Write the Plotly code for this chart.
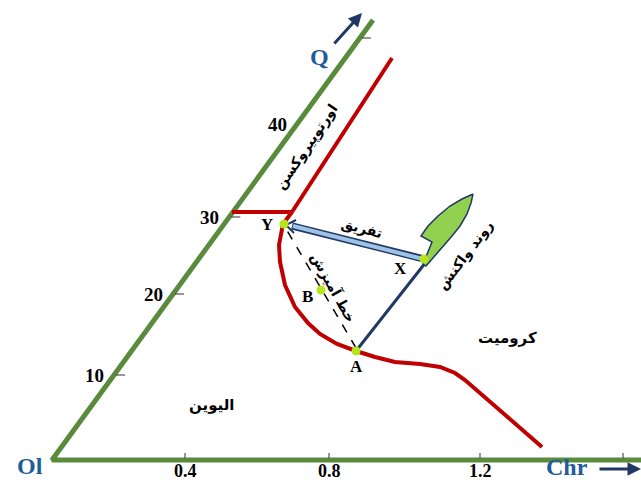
import plotly.graph_objects as go

# Frame of the diagram (page-like units, y grows downward)
W, H = 641, 482

# Triangle edges: Ol apex, Q end of the left edge, Chr end of the base
OL = (52, 460)
Q_END = (373, 20)
CHR_END = (641, 460)

# Q scale (left edge) tick labels and the heights at which they sit
q_ticks = ["10", "20", "30", "40"]
q_tick_y = [375, 294, 217, 124]
q_dash_y = [375, 294, 217, 38]

# Chr scale (base) tick labels and positions
chr_ticks = ["0.4", "0.8", "1.2", ""]
chr_tick_x = [185, 329, 480, 623]

# Cotectic boundaries (red)
opx_boundary_x = [292, 392]
opx_boundary_y = [212, 58]
peritectic_x = [232, 292, 283]
peritectic_y = [212, 212, 224]
chromite_curve_x = [283, 279, 280, 285, 295, 308, 320, 337, 356, 375, 395, 420, 440, 455, 465, 542]
chromite_curve_y = [224, 245, 262, 285, 307, 323, 334, 344, 351, 357, 362, 364, 367, 373, 380, 447]

# Named compositions
pt_names = ["Y", "B", "X", "A"]
pt_x = [284, 321, 424, 356]
pt_y = [224, 290, 259, 351]
lbl_x = [267, 307, 400, 356]
lbl_y = [224, 296, 268, 366]

# Reaction-trend arrow outline: tapering shaft, broad head with a left barb
trend_x = [473, 471, 467, 460, 452, 446, 434, 426, 423, 428, 432, 421, 428, 438, 450, 462, 473]
trend_y = [194, 203, 214, 226, 236, 243, 257, 266, 264, 252, 242, 236, 226, 216, 206, 199, 194]

GREEN = "#5a8a3c"
RED = "#C00000"
NAVY = "#1F3864"
DARKBLUE = "#1F5C99"
SERIF = "Liberation Serif, Times New Roman, serif"
FARSI = "DejaVu Sans, sans-serif"

fig = go.Figure()


def line(xs, ys, color, width, dash="solid"):
    fig.add_trace(go.Scatter(x=xs, y=ys, mode="lines", hoverinfo="skip",
                             line=dict(color=color, width=width, dash=dash)))


# Triangle sides
line([Q_END[0], OL[0], CHR_END[0]], [Q_END[1], OL[1], CHR_END[1]], GREEN, 5)

# Tick dashes on the Q edge
for yy in q_dash_y:
    t = (OL[1] - yy) / (OL[1] - Q_END[1])
    x0 = OL[0] + t * (Q_END[0] - OL[0])
    line([x0 + 2, x0 + 11], [yy, yy], "#333333", 1)

# Tick marks on the base
for xx in chr_tick_x:
    line([xx, xx], [453, 458], "#333333", 1)

# Red boundaries
line(opx_boundary_x, opx_boundary_y, RED, 4)
line(peritectic_x, peritectic_y, RED, 4)
line(chromite_curve_x, chromite_curve_y, RED, 4)

# Mixing line A–Y
line([pt_x[3], pt_x[0] + 1], [pt_y[3] - 3, pt_y[0] + 3], "black", 1.5, "dash")

# Reaction trend: shaft from A and the green arrow
line([pt_x[3], 426], [pt_y[3], 262], NAVY, 3)
fig.add_trace(go.Scatter(x=trend_x, y=trend_y, mode="lines", fill="toself",
                         fillcolor="#92D050", hoverinfo="skip",
                         line=dict(color=NAVY, width=1.5)))

# Differentiation arrow X -> Y
line([pt_x[2], pt_x[0] + 8], [pt_y[2], pt_y[0] + 2], NAVY, 7)
line([pt_x[2] - 1, pt_x[0] + 9], [pt_y[2], pt_y[0] + 2], "#9DC3E6", 4)
line([pt_x[0] + 12, pt_x[0] + 2, pt_x[0] + 10],
     [pt_y[0] - 4, pt_y[0] + 1, pt_y[0] + 9], NAVY, 2)

# Composition points
fig.add_trace(go.Scatter(x=pt_x, y=pt_y, mode="markers", hoverinfo="skip",
                         marker=dict(color="#B5E61D", size=9)))

annotations = []


def text(x, y, s, size, color="black", font=SERIF, angle=0, bold=True):
    annotations.append(dict(x=x, y=y, text=f"<b>{s}</b>" if bold else s,
                            showarrow=False, textangle=angle,
                            font=dict(family=font, size=size, color=color),
                            xanchor="center", yanchor="middle"))


for s, yy, in zip(q_ticks, q_tick_y):
    t = (OL[1] - yy) / (OL[1] - Q_END[1])
    x0 = OL[0] + t * (Q_END[0] - OL[0])
    text(x0 - 20, yy, s, 19)

for s, xx in zip(chr_ticks, chr_tick_x):
    if s:
        text(xx, 471, s, 18)

for s, xx, yy in zip(pt_names, lbl_x, lbl_y):
    text(xx, yy, s, 17)

text(30, 466, "Ol", 24, DARKBLUE)
text(319, 57, "Q", 24, DARKBLUE)
text(567, 467, "Chr", 24, DARKBLUE)

# Apex direction arrows
annotations.append(dict(x=362, y=13, ax=333, ay=45, xref="x", yref="y",
                        axref="x", ayref="y", showarrow=True, arrowhead=2,
                        arrowsize=0.9, arrowwidth=3, arrowcolor=NAVY, text=""))
annotations.append(dict(x=641, y=469, ax=598, ay=469, xref="x", yref="y",
                        axref="x", ayref="y", showarrow=True, arrowhead=2,
                        arrowsize=0.9, arrowwidth=3, arrowcolor=NAVY, text=""))

# Field and path labels
text(306, 147, "اورتوپیروکسن", 14, font=FARSI, angle=-56)
text(362, 228, "تفریق", 14, font=FARSI, angle=15)
text(333, 287, "خط آمیزش", 14, font=FARSI, angle=61)
text(465, 255, "روند واکنش", 14, font=FARSI, angle=-53)
text(507, 338, "کرومیت", 15, font=FARSI)
text(211, 405, "الیوین", 15, font=FARSI)

fig.update_layout(
    width=W, height=H, margin=dict(l=0, r=0, t=0, b=0),
    paper_bgcolor="white", plot_bgcolor="white", showlegend=False,
    xaxis=dict(range=[0, W], visible=False, fixedrange=True),
    yaxis=dict(range=[H, 0], visible=False, fixedrange=True),
    annotations=annotations,
)

fig.write_html("out.html")
